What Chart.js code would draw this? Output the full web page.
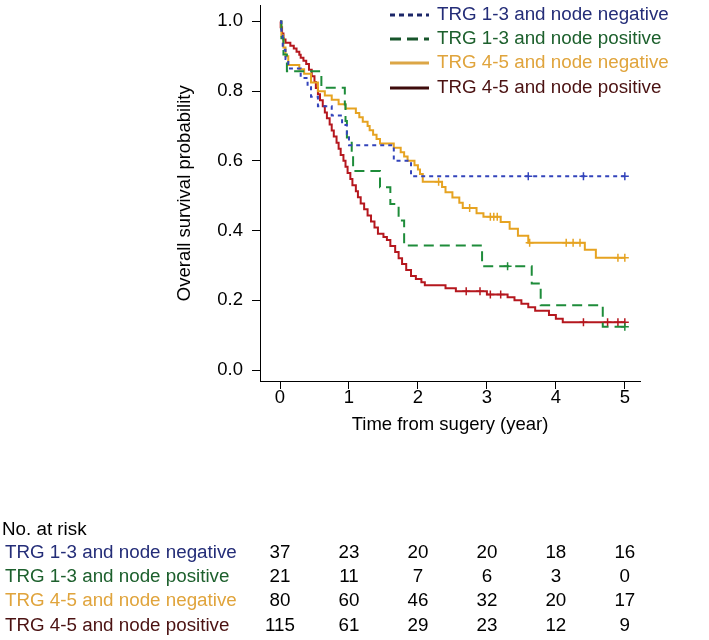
<!DOCTYPE html>
<html lang="en">
<head>
<meta charset="UTF-8">
<title>Overall survival by TRG and node status</title>
<script src="https://cdn.jsdelivr.net/npm/chart.js"></script>
<style>
  html, body { margin: 0; padding: 0; background: #fff; }
</style>
</head>
<body>
<canvas id="kmChart" width="709" height="640"></canvas>
<script>
// groups, as in legend and risk table
const groups = ['TRG 1-3 and node negative', 'TRG 1-3 and node positive',
                'TRG 4-5 and node negative', 'TRG 4-5 and node positive'];

// Kaplan-Meier steps: time (years) and survival after the drop
const blueTimes = [0, 0.02, 0.04, 0.08, 0.12, 0.30, 0.40, 0.45, 0.55, 0.75, 0.90, 0.97, 1.00, 1.65, 1.90];
const blueSurv  = [1, 0.973, 0.919, 0.892, 0.865, 0.838, 0.811, 0.784, 0.757, 0.730, 0.703, 0.676, 0.645, 0.600, 0.556];
const blueCens  = [3.6, 4.4, 5.0];

const greenTimes = [0, 0.02, 0.05, 0.10, 0.60, 0.94, 0.95, 0.97, 1.04, 1.06, 1.45, 1.60, 1.72, 1.80, 2.93, 3.65, 3.78, 4.68];
const greenSurv  = [1, 0.952, 0.905, 0.857, 0.810, 0.762, 0.714, 0.667, 0.619, 0.571, 0.524, 0.476, 0.429, 0.357, 0.298, 0.248, 0.186, 0.124];
const greenCens  = [3.3, 5.0];

const orangeTimes = [0, 0.02, 0.05, 0.08, 0.12, 0.28, 0.35, 0.45, 0.55, 0.65, 0.75, 0.85, 0.95, 1.10, 1.15, 1.20, 1.27,
                     1.30, 1.35, 1.40, 1.45, 1.65, 1.75, 1.80, 1.85, 1.95, 2.00, 2.03, 2.07, 2.35, 2.40, 2.50, 2.60,
                     2.65, 2.85, 2.95, 3.20, 3.33, 3.45, 3.60, 4.42, 4.58];
const orangeSurv  = [1, 0.96, 0.925, 0.90, 0.875, 0.8625, 0.85, 0.825, 0.80, 0.7875, 0.775, 0.7625, 0.75, 0.7375, 0.725, 0.7125, 0.70,
                     0.6875, 0.675, 0.6625, 0.65, 0.6375, 0.625, 0.6125, 0.60, 0.5875, 0.575, 0.5625, 0.54, 0.525, 0.51, 0.495, 0.48,
                     0.465, 0.45, 0.44, 0.425, 0.405, 0.385, 0.365, 0.345, 0.322];
const orangeCens  = [2.3, 2.75, 3.05, 3.1, 3.15, 3.62, 4.15, 4.25, 4.35, 4.9, 5.0];

const redTimes = [0, 0.01, 0.03, 0.05, 0.08, 0.15, 0.20, 0.24, 0.28, 0.30, 0.34, 0.38, 0.42, 0.46, 0.50, 0.52, 0.55, 0.58,
                  0.62, 0.65, 0.68, 0.72, 0.75, 0.78, 0.82, 0.85, 0.88, 0.92, 0.95, 0.98, 1.02, 1.05, 1.10, 1.13, 1.17,
                  1.22, 1.27, 1.32, 1.37, 1.42, 1.50, 1.55, 1.60, 1.67, 1.72, 1.77, 1.83, 1.90, 1.97, 2.05, 2.10, 2.40,
                  2.55, 3.00, 3.30, 3.40, 3.50, 3.60, 3.70, 3.90, 4.00, 4.10];
const redSurv  = [1, 0.983, 0.965, 0.948, 0.939, 0.930, 0.922, 0.913, 0.904, 0.896, 0.887, 0.878, 0.861, 0.843, 0.826, 0.809, 0.791, 0.774,
                  0.757, 0.739, 0.722, 0.704, 0.687, 0.670, 0.652, 0.635, 0.617, 0.600, 0.583, 0.565, 0.548, 0.530, 0.513, 0.496, 0.478,
                  0.461, 0.443, 0.426, 0.409, 0.391, 0.382, 0.373, 0.356, 0.339, 0.321, 0.304, 0.287, 0.270, 0.261, 0.252, 0.243, 0.235,
                  0.226, 0.217, 0.209, 0.200, 0.190, 0.180, 0.170, 0.158, 0.147, 0.137];
const redCens  = [2.7, 2.9, 3.05, 3.2, 4.4, 4.75, 4.9, 5.0];

// numbers at risk, one column per x tick
const xTicks = [0, 1, 2, 3, 4, 5];
const yTicks = [0, 0.2, 0.4, 0.6, 0.8, 1.0];
const riskBlue   = [37, 23, 20, 20, 18, 16];
const riskGreen  = [21, 11, 7, 6, 3, 0];
const riskOrange = [80, 60, 46, 32, 20, 17];
const riskRed    = [115, 61, 29, 23, 12, 9];

const lineColors   = ['#3344bb', '#1e8c3a', '#e6a321', '#b5171e'];
const legendColors = ['#1c2668', '#17552b', '#dca646', '#3e0b0b'];
const textColors   = ['#242d78', '#1d602d', '#e0a43c', '#4b1212'];
const dashes       = [[4, 4], [10, 6], [], []];

const FONT = 'Liberation Sans, Arial, Helvetica, sans-serif';
Chart.defaults.font.family = FONT;
Chart.defaults.font.size = 18.5;
Chart.defaults.color = '#000';

function survAt(times, surv, t) {
    let s = surv[0];
    for (let i = 0; i < times.length; i++) {
        if (times[i] <= t) s = surv[i];
    }
    return s;
}

function curve(times, surv, endT) {
    const pts = times.map((t, i) => ({x: t, y: surv[i]}));
    pts.push({x: endT, y: surv[surv.length - 1]});
    return pts;
}

const curves = [
    [blueTimes, blueSurv, blueCens],
    [greenTimes, greenSurv, greenCens],
    [orangeTimes, orangeSurv, orangeCens],
    [redTimes, redSurv, redCens]
];

const datasets = [];
curves.forEach((c, i) => {
    datasets.push({
        label: groups[i],
        data: curve(c[0], c[1], 5.0),
        showLine: true,
        stepped: 'before',   // hold level, then drop at the event time
        borderColor: lineColors[i],
        borderWidth: 2,
        borderDash: dashes[i],
        pointRadius: 0,
        fill: false
    });
});
curves.forEach((c, i) => {
    datasets.push({
        label: groups[i] + ' censored',
        data: c[2].map(t => ({x: t, y: survAt(c[0], c[1], t)})),
        showLine: false,
        pointStyle: 'cross',
        pointRadius: 4,
        pointBorderWidth: 1.5,
        borderColor: lineColors[i],
        backgroundColor: lineColors[i]
    });
});

// legend inside the plot and the risk table under it
const extrasPlugin = {
    id: 'extras',
    afterDraw(chart) {
        const ctx = chart.ctx;
        const xs = chart.scales.x;
        ctx.save();
        ctx.font = '18.8px ' + FONT;
        ctx.textBaseline = 'middle';

        const legendY = [15, 39, 63, 88];
        groups.forEach((g, i) => {
            ctx.strokeStyle = legendColors[i];
            ctx.lineWidth = 3;
            ctx.setLineDash(dashes[i].length ? [dashes[i][0] + 1, dashes[i][1]] : []);
            ctx.beginPath();
            ctx.moveTo(390, legendY[i]);
            ctx.lineTo(429, legendY[i]);
            ctx.stroke();
            ctx.setLineDash([]);
            ctx.fillStyle = textColors[i];
            ctx.textAlign = 'left';
            ctx.fillText(g, 437, legendY[i]);
        });

        ctx.fillStyle = '#000';
        ctx.textAlign = 'left';
        ctx.fillText('No. at risk', 2, 530);
        const rows = [riskBlue, riskGreen, riskOrange, riskRed];
        const rowY = [553, 577, 601, 626];
        rows.forEach((r, i) => {
            ctx.fillStyle = textColors[i];
            ctx.textAlign = 'left';
            ctx.fillText(groups[i], 5, rowY[i]);
            ctx.fillStyle = '#000';
            ctx.textAlign = 'center';
            r.forEach((n, j) => ctx.fillText(String(n), xs.getPixelForValue(xTicks[j]), rowY[i]));
        });
        ctx.restore();
    }
};

new Chart(document.getElementById('kmChart'), {
    type: 'scatter',
    data: {datasets: datasets},
    options: {
        responsive: false,
        animation: false,
        devicePixelRatio: 1,
        layout: {padding: {left: 160, top: 3, right: 69, bottom: 199}},
        plugins: {legend: {display: false}, tooltip: {enabled: false}},
        scales: {
            x: {
                type: 'linear',
                min: -0.29,
                max: 5.22,
                afterBuildTicks: s => { s.ticks = xTicks.map(v => ({value: v})); },
                afterFit: s => { s.height = 60; s.paddingLeft = 0; s.paddingRight = 0; },
                ticks: {padding: -2, maxRotation: 0, autoSkip: false},
                grid: {display: true, drawOnChartArea: false, drawTicks: true, tickLength: 8, color: '#000'},
                border: {display: true, color: '#000', width: 1},
                title: {display: true, text: 'Time from sugery (year)', padding: {top: 0, bottom: 5}}
            },
            y: {
                min: -0.0313,
                max: 1.0456,
                afterBuildTicks: s => { s.ticks = yTicks.map(v => ({value: v})); },
                afterFit: s => { s.width = 100; s.paddingTop = 0; s.paddingBottom = 0; },
                ticks: {padding: 9, callback: v => v.toFixed(1)},
                grid: {display: true, drawOnChartArea: false, drawTicks: true, tickLength: 8, color: '#000'},
                border: {display: true, color: '#000', width: 1},
                title: {display: true, text: 'Overall survival probability', padding: {top: 14, bottom: 0}}
            }
        }
    },
    plugins: [extrasPlugin]
});
</script>
</body>
</html>
